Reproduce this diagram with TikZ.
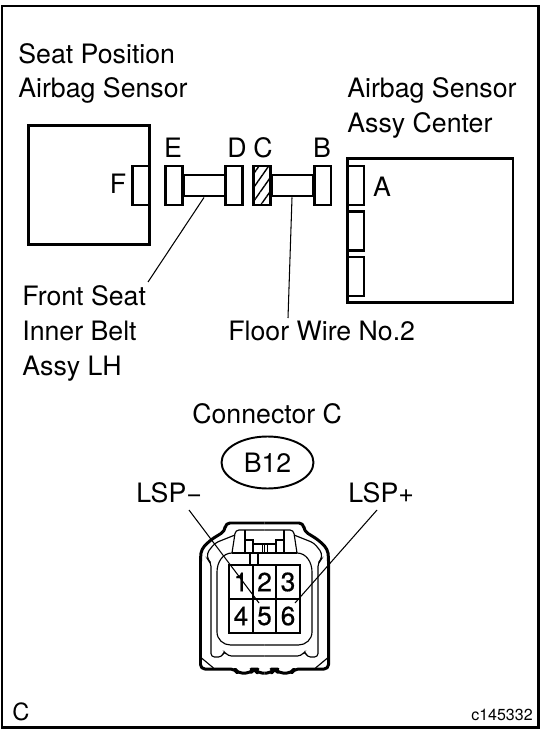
\documentclass[tikz,border=0pt]{standalone}
\usepackage{fontspec}
\setmainfont{TeX Gyre Heros}
\newfontfamily\pinfont[FakeBold=0.5]{TeX Gyre Heros}
\usetikzlibrary{patterns.meta,shapes.geometric,positioning}
\tikzset{
  lbl/.style={inner sep=0pt, anchor=base west, font=\fontsize{15.2}{18}\selectfont},
  letter/.style={inner sep=0pt, font=\fontsize{15.2}{18}\selectfont},
  pin/.style={inner sep=0pt, font=\pinfont\fontsize{15}{18}\selectfont},
  plug/.style={draw, line width=1.7pt, fill=white, minimum width=0.34cm, minimum height=0.78cm, inner sep=0pt},
  wire/.style={draw, line width=1.7pt, minimum width=0.84cm, minimum height=0.42cm, inner sep=0pt},
  unit/.style={draw, line width=1.7pt, inner sep=0pt},
  thick line/.style={line width=1.7pt, line join=round},
  thin line/.style={line width=0.65pt},
  leader/.style={line width=0.6pt}
}
\begin{document}
\begin{tikzpicture}[x=0.02cm, y=-0.02cm]
\useasboundingbox (0,0) rectangle (539,729);
\draw[line width=1.7pt] (2,6) rectangle (538,727);

% upper labels
\node[lbl] (seat1) at (18,64) {Seat Position};
\node[lbl] (seat2) at (18,98) {Airbag Sensor};
\node[lbl] (ctr1) at (347,98) {Airbag Sensor};
\node[lbl] (ctr2) at (347,133) {Assy Center};
\node[lbl] (belt1) at (22,305) {Front Seat};
\node[lbl] (belt2) at (22,340) {Inner Belt};
\node[lbl] (belt3) at (22,375) {Assy LH};
\node[lbl] (floor) at (228,340) {Floor Wire No.2};

% seat sensor
\node[unit, minimum width=2.44cm, minimum height=2.4cm] (sensor) at (89,185) {};
\node[plug, minimum width=0.35cm] (sF) at (141,185.5) {};
\node[letter] (lF) at (118,184) {F};

% harnesses
\node[wire] (ed) at (204,185.5) {};
\node[wire] (cb) at (292,185.5) {};
\node[plug] (pE) at (174,185.5) {};
\node[plug] (pD) at (234,185.5) {};
\node[plug, pattern={Lines[angle=55,distance=4.5pt,line width=0.8pt]}] (pC) at (262,185.5) {};
\node[plug] (pB) at (322.5,185.5) {};
\foreach \t/\x in {E/173, D/237, C/263, B/322}
{\node[letter] (l\t) at (\x,147.5) {\t};}

% center assy
\node[unit, minimum width=3.32cm, minimum height=2.9cm] (assy) at (430,230.5) {};
\foreach \n/\y in {sA/185.5, sB/231, sC/276.5}
{\node[plug, minimum width=0.34cm] (\n) at (355.5,\y) {};}
\node[letter] (lA) at (382,187) {A};

\coordinate (beltend) at (148,282);
\coordinate (floorend) at (288,318);
\draw[leader] (ed.south) -- (beltend);
\draw[leader] (cb.south) -- (floorend);

% connector C
\node[lbl] (connC) at (192,423) {Connector C};
\node[draw, ellipse, line width=1.1pt, minimum width=1.84cm, minimum height=1.04cm, inner sep=0pt, font=\fontsize{15.2}{18}\selectfont] (code) at (267.5,462.5) {B12};
\node[lbl] (lspm) at (136,502) {LSP−};
\node[lbl] (lspp) at (348,502) {LSP+};

% housing, one half drawn twice
\foreach \s in {1,-1}
{
\begin{scope}[shift={(264.5,0)}, xscale=\s]
\draw[thick line, rounded corners=2.5pt] (0,523) -- (-39,523) -- (-39.5,531) -- (-54,540) -- (-63,549) -- (-64,557) -- (-64,669) -- (-29.5,669) -- (-27,673) -- (-14,673) -- (-11,669) -- (-9,669) -- (-7,673) -- (0,673);
\draw[thin line, rounded corners=2pt] (-29.5,535) -- (-49.5,543) -- (-57.5,553) -- (-56.5,560) -- (-53.5,563) -- (-53.5,657) -- (-42.5,657) -- (-40.5,651) -- (-36.5,656) -- (0,656);
\draw[thin line] (-32.5,553) to[out=180,in=90] (-47.5,572) -- (-47.5,632) to[out=-90,in=180] (-34,645) -- (0,645);
\draw[thin line] (-63,658) -- (-51,668);
\draw[thin line, rounded corners=2pt] (0,530) -- (-29,530) -- (-32.5,553);
\draw[thin line] (-32.5,553) -- (0,553);
\draw[thin line] (-19.5,530) -- (-19.5,553);
\draw[thin line] (-19.5,540) -- (-11.5,540) -- (-11.5,544) -- (0,544);
\draw[thin line] (-11.5,544) -- (-11.5,553);
\end{scope}
}
\foreach \x in {262,264.5,267}
{\draw[line width=0.35pt] (\x,544) -- (\x,553);}
\foreach \x in {250,258}
{\draw[thin line] (\x,553) -- (\x,565);}

% pin grid
\draw[thin line] (229,565) rectangle (300,633);
\draw[thin line] (229,599) -- (300,599);
\foreach \x in {253,276}
{\draw[thin line] (\x,565) -- (\x,633);}
\foreach \n/\x/\y in {1/241/582, 2/264.5/582, 3/288/582, 4/241/616, 5/264.5/616, 6/288/616}
{\node[pin] (pin\n) at (\x,\y) {\n};}

\coordinate (lspmend) at (259,603);
\coordinate (lsppend) at (295,603);
\coordinate (lspmtop) at (189,510);
\coordinate (lspptop) at (377,510);
\draw[leader] (lspmtop) -- (lspmend);
\draw[leader] (lspptop) -- (lsppend);

% corner marks
\node[inner sep=0pt, anchor=base west, font=\fontsize{13.5}{16}\selectfont] (mark) at (12,720) {C};
\node[inner sep=0pt, anchor=base east, font=\fontsize{9.1}{11}\selectfont] (fig) at (533,720) {c145332};
\end{tikzpicture}
\end{document}
